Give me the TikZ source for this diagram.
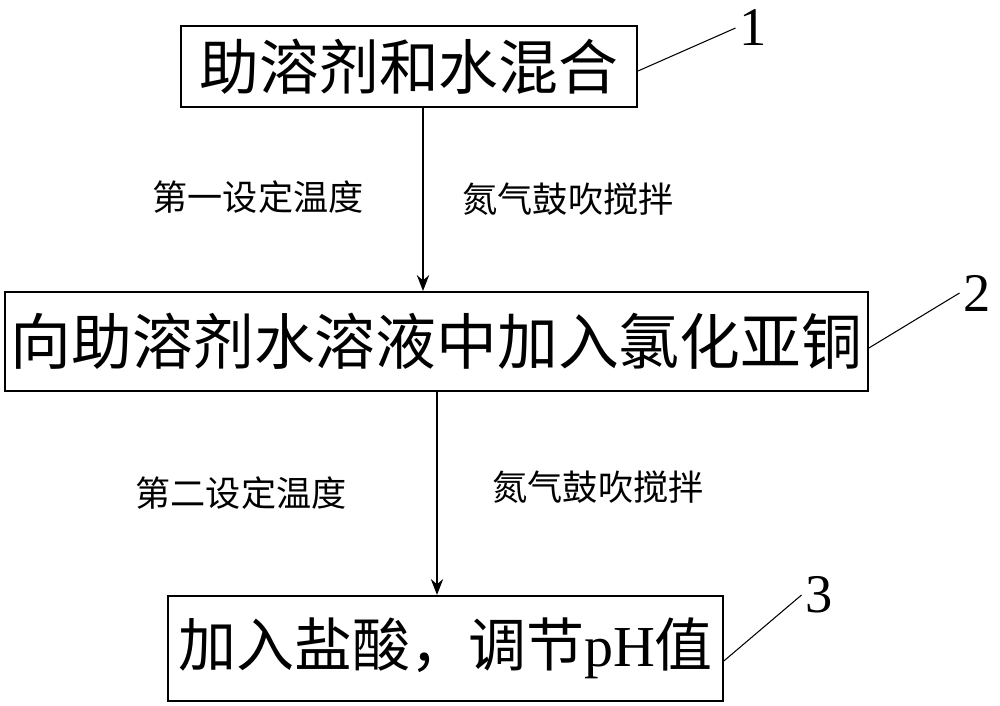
\documentclass[tikz,border=0pt]{standalone}
\usepackage{fontspec}
\setmainfont{Liberation Serif}
\newfontfamily\cjk{Noto Sans CJK SC}
\usetikzlibrary{arrows.meta, positioning}

\begin{document}
\begin{tikzpicture}[
    stepbox/.style={
      draw=black,
      line width=1.1pt,
      inner sep=0pt,
      font=\cjk,
    },
    arr/.style={-{Stealth[length=9pt, width=7pt]}, line width=0.9pt},
    lead/.style={line width=0.6pt},
    num/.style={font=\fontsize{31}{31}\selectfont, inner sep=2pt},
    cond/.style={font=\cjk\fontsize{20}{24}\selectfont, inner sep=0pt},
  ]
    \useasboundingbox (0,0) rectangle (20,-14.1);

    \node[stepbox, minimum width=9.12cm, minimum height=1.62cm,
          font=\cjk\fontsize{34}{40}\selectfont] (mix) at (8.18,-1.33) {助溶剂和水混合};

    \node[stepbox, text width=17.26cm, align=center, minimum height=1.98cm,
          font=\cjk\fontsize{34.6}{40}\selectfont,
          below=3.66cm of mix, xshift=0.55cm] (addcu) {向助溶剂水溶液中加入氯化亚铜};

    \node[stepbox, minimum width=11.1cm, minimum height=2.1cm,
          font=\cjk\fontsize{33}{40}\selectfont,
          below=4.06cm of addcu, xshift=0.18cm] (acid) {加入盐酸，调节{\rmfamily pH}值};

    % step numbers
    \node[num] (n1) at (15.06,-0.56) {1};
    \node[num] (n2) at (19.54,-5.86) {2};
    \node[num] (n3) at (16.38,-11.90) {3};

    \draw[lead] ([yshift=-0.09cm]mix.east) -- (n1.west);
    \draw[lead] ([yshift=-0.13cm]addcu.east) -- (n2.west);
    \draw[lead] ([yshift=-0.25cm]acid.east) -- (n3.west);

    % flow
    \coordinate (a1) at (8.46,0);
    \coordinate (a2) at (8.74,0);
    \draw[arr] (mix.south -| a1) -- (addcu.north -| a1);
    \draw[arr] (addcu.south -| a2) -- (acid.north -| a2);

    \node[cond] (temp1) at (5.16,-3.94) {第一设定温度};
    \node[cond] (gas1) at (11.36,-3.98) {氮气鼓吹搅拌};
    \node[cond] (temp2) at (4.82,-9.86) {第二设定温度};
    \node[cond] (gas2) at (11.96,-9.74) {氮气鼓吹搅拌};
  \end{tikzpicture}
\end{document}
